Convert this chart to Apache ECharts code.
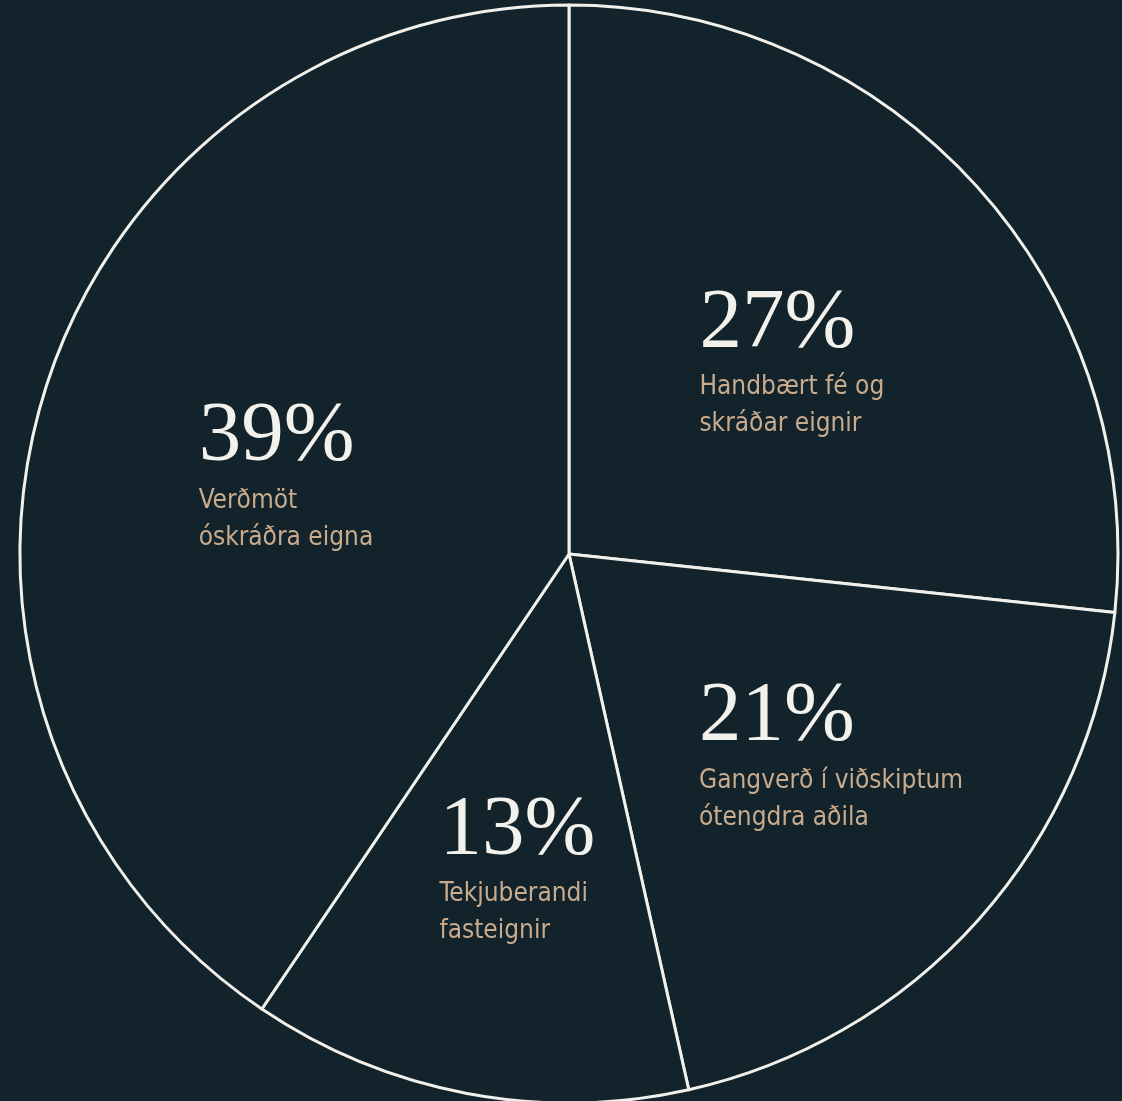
<!DOCTYPE html>
<html>
<head>
<meta charset="utf-8">
<script src="https://cdn.jsdelivr.net/npm/echarts@6/dist/echarts.min.js"></script>
<style>
html,body{margin:0;padding:0;background:#12232b;}
#chart{width:1122px;height:1101px;}
</style>
</head>
<body>
<div id="chart"></div>
<script>
// Slice shares (clockwise from 12 o'clock)
const values = [26.7, 19.8, 12.95, 40.55];
// Printed percentage labels
const pctLabels = ['27%', '21%', '13%', '39%'];
// Category descriptions (two lines each)
const categories = [
  ['Handbært fé og', 'skráðar eignir'],
  ['Gangverð í viðskiptum', 'ótengdra aðila'],
  ['Tekjuberandi', 'fasteignir'],
  ['Verðmöt', 'óskráðra eigna']
];

const labelShift = [[-76, -7], [-77, 16], [-78, 42], [-105, 2]];

const chart = echarts.init(document.getElementById('chart'), null, {renderer: 'canvas'});
chart.setOption({
  backgroundColor: '#12232b',
  animation: false,
  series: [{
    type: 'pie',
    center: [569, 554],
    radius: [0, 549],
    startAngle: 90,
    clockwise: true,
    silent: true,
    data: values.map((v, i) => ({
      value: v,
      name: categories[i].join(' ')
    })),
    itemStyle: {color: '#12232b', borderColor: '#f1f0ea', borderWidth: 3},
    label: {
      show: true,
      position: 'inside',
      formatter: (p) => '{p|' + pctLabels[p.dataIndex] + '}\n{t|' + categories[p.dataIndex][0] + '}\n{t|' + categories[p.dataIndex][1] + '}',
      rich: {
        p: {fontFamily: 'Liberation Serif', fontSize: 85, color: '#f2f1eb', lineHeight: 89, align: 'left'},
        t: {fontFamily: 'DejaVu Sans Condensed', fontSize: 26, color: '#c9ab8d', lineHeight: 37, align: 'left'}
      }
    },
    labelLine: {show: false},
    labelLayout: (params) => ({
      align: 'left',
      dx: labelShift[params.dataIndex][0],
      dy: labelShift[params.dataIndex][1]
    })
  }]
});
</script>
</body>
</html>
